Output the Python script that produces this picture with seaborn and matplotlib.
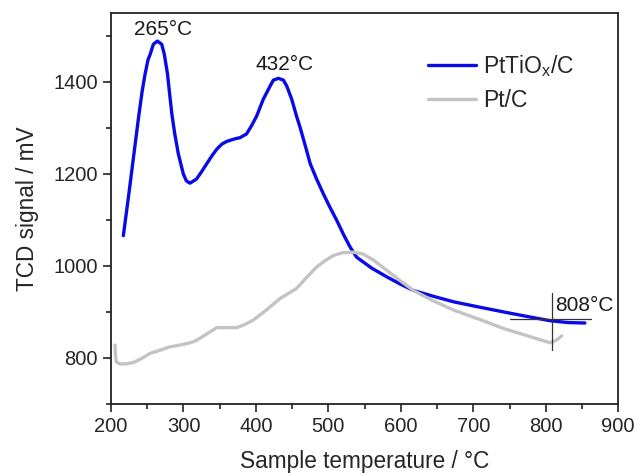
import matplotlib
matplotlib.use("Agg")
import matplotlib.pyplot as plt
from matplotlib.ticker import MultipleLocator
import pandas as pd
import seaborn as sns

# PtTiOx/C TPR trace
t_ptti = [217, 224, 231, 238, 243, 247, 251, 254, 258.4, 264, 270, 273.6, 278, 280.5,
          284, 288, 293, 299.8, 304, 309, 318, 325, 332, 339, 346, 353, 360, 370, 378,
          387, 394, 401, 410, 419.5, 424, 431, 438, 442.6, 449.5, 456, 461, 468, 475,
          484, 493, 502, 511.6, 521, 530, 539, 560, 581, 600, 617, 645, 673, 710, 742,
          775, 806, 830, 854]
s_ptti = [1066, 1149, 1236, 1323, 1380, 1417, 1448, 1460, 1482, 1489, 1482, 1460, 1417, 1380,
          1330, 1287, 1243, 1200, 1185, 1180, 1189, 1205, 1222, 1239, 1254, 1265, 1271, 1276, 1279,
          1287, 1305, 1326, 1362, 1391, 1404, 1408, 1404, 1391, 1362, 1326, 1301, 1262, 1222,
          1188, 1157, 1128, 1099, 1068, 1041, 1019, 995, 976, 960, 947, 934, 922, 910, 900,
          890, 881, 877, 876]

# Pt/C trace
t_pt = [205.5, 206, 207, 212, 220, 231, 240, 254, 268, 281, 295, 307, 315, 323, 335,
        346, 360, 374, 385, 396, 415, 433, 456, 470, 484, 496, 507, 520, 534, 548, 562,
        581, 600, 617, 645, 673, 710, 742, 775, 806, 814, 822]
s_pt = [828, 810, 792, 787, 787, 790, 797, 810, 817, 824, 828, 832, 836, 843, 855,
        866, 866, 866, 873, 882, 905, 929, 951, 975, 998, 1012, 1023, 1029, 1030, 1026, 1013,
        990, 967, 947, 924, 904, 883, 864, 848, 833, 838, 848]

peak_labels = ["265°C", "432°C", "808°C"]
peak_label_pos = [(272, 1515), (439, 1439), (813, 915)]
onset_t = 808
onset_vline = (817, 941)
onset_hline = (751, 862, 884)

df_a = pd.DataFrame({"T": t_ptti, "S": s_ptti})
df_b = pd.DataFrame({"T": t_pt, "S": s_pt})

sns.set_style("ticks")
plt.rcParams["font.family"] = ["Liberation Sans", "DejaVu Sans"]
plt.rcParams["mathtext.fontset"] = "custom"
plt.rcParams["mathtext.rm"] = "Liberation Sans"

fig = plt.figure(figsize=(6.38, 4.73), dpi=100)
ax = fig.add_axes([0.174, 0.146, 0.795, 0.8265])

line_kw = dict(lw=2.4, solid_joinstyle="round", solid_capstyle="round")
sns.lineplot(data=df_a, x="T", y="S", sort=False, color="#0a0ae6",
             label=r"PtTiO$_\mathrm{x}$/C", ax=ax, **line_kw)
sns.lineplot(data=df_b, x="T", y="S", sort=False, color="#c3c3c3",
             label="Pt/C", ax=ax, **line_kw)

# onset marker at 808 °C
ax.plot([onset_t, onset_t], onset_vline, color="#333333", lw=0.9)
ax.plot(onset_hline[:2], [onset_hline[2]] * 2, color="#333333", lw=0.9)

for txt, (x, y) in zip(peak_labels, peak_label_pos):
    ha = "left" if txt == "808°C" else "center"
    ax.text(x, y, txt, ha=ha, va="center", fontsize=15, color="#1a1a1a")

ax.set_xlim(200, 900)
ax.set_ylim(700, 1550)
ax.xaxis.set_major_locator(MultipleLocator(100))
ax.xaxis.set_minor_locator(MultipleLocator(50))
ax.yaxis.set_major_locator(MultipleLocator(200))
ax.yaxis.set_minor_locator(MultipleLocator(100))
ax.tick_params(which="major", length=6, width=1.2, labelsize=14.5, color="#222222")
ax.tick_params(which="minor", length=3.5, width=1.2, color="#222222")
for sp in ax.spines.values():
    sp.set_linewidth(1.3)
    sp.set_color("#222222")

ax.set_xlabel("Sample temperature / °C", fontsize=16.3, labelpad=10)
ax.set_ylabel("TCD signal / mV", fontsize=16.3, labelpad=10)

leg = ax.legend(loc="upper left", bbox_to_anchor=(0.585, 0.95), frameon=False,
                fontsize=16.5, handlelength=2.1, handletextpad=0.3, labelspacing=0.45)

fig.savefig("out.png", dpi=100)
